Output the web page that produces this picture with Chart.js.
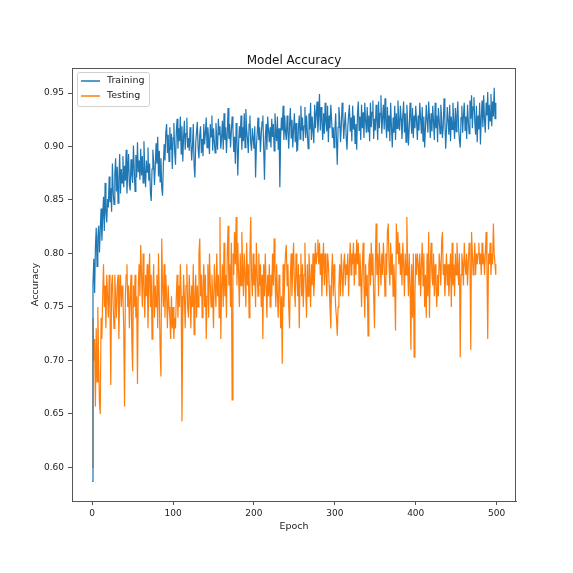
<!DOCTYPE html>
<html>
<head>
<meta charset="utf-8">
<script src="https://cdn.jsdelivr.net/npm/chart.js@4/dist/chart.umd.min.js"></script>
<style>
  html, body { margin: 0; padding: 0; background: #fff; }
  #wrap { width: 573px; height: 573px; }
</style>
</head>
<body>
<div id="wrap"><canvas id="accChart" width="573" height="573"></canvas></div>
<script>
// accuracy per epoch
const trainAcc = [
  0.587, 0.772, 0.795, 0.763, 0.806, 0.824, 0.788, 0.815, 0.826, 0.801, 0.823, 0.842, 0.812, 0.834, 0.853, 0.821, 0.866, 0.838, 0.829, 0.851,
  0.843, 0.872, 0.848, 0.861, 0.839, 0.884, 0.857, 0.846, 0.875, 0.889, 0.858, 0.881, 0.847, 0.869, 0.893, 0.856, 0.879, 0.866, 0.891, 0.862,
  0.882, 0.868, 0.897, 0.856, 0.877, 0.893, 0.864, 0.859, 0.888, 0.874, 0.866, 0.901, 0.879, 0.858, 0.892, 0.871, 0.904, 0.876, 0.887, 0.869,
  0.898, 0.873, 0.891, 0.866, 0.905, 0.878, 0.862, 0.887, 0.876, 0.899, 0.868, 0.884, 0.857, 0.849, 0.879, 0.897, 0.886, 0.864, 0.881, 0.903,
  0.884, 0.909, 0.872, 0.896, 0.867, 0.889, 0.861, 0.854, 0.883, 0.902, 0.887, 0.913, 0.921, 0.894, 0.911, 0.886, 0.918, 0.897, 0.912, 0.879,
  0.908, 0.922, 0.895, 0.883, 0.914, 0.926, 0.898, 0.917, 0.905, 0.928, 0.893, 0.919, 0.886, 0.909, 0.924, 0.897, 0.912, 0.927, 0.899, 0.908,
  0.896, 0.918, 0.905, 0.887, 0.901, 0.921, 0.882, 0.871, 0.903, 0.914, 0.923, 0.898, 0.889, 0.911, 0.919, 0.894, 0.907, 0.891, 0.921, 0.902,
  0.913, 0.927, 0.899, 0.918, 0.906, 0.893, 0.921, 0.909, 0.929, 0.896, 0.917, 0.905, 0.894, 0.922, 0.908, 0.897, 0.926, 0.911, 0.919, 0.898,
  0.909, 0.924, 0.897, 0.931, 0.906, 0.918, 0.894, 0.912, 0.936, 0.907, 0.921, 0.899, 0.913, 0.928, 0.917, 0.895, 0.909, 0.884, 0.922, 0.906,
  0.873, 0.902, 0.919, 0.908, 0.929, 0.897, 0.918, 0.905, 0.931, 0.899, 0.935, 0.916, 0.907, 0.894, 0.921, 0.929, 0.903, 0.896, 0.917, 0.908,
  0.898, 0.919, 0.871, 0.901, 0.912, 0.927, 0.906, 0.918, 0.895, 0.911, 0.923, 0.929, 0.899, 0.869, 0.908, 0.921, 0.897, 0.928, 0.915, 0.904,
  0.918, 0.899, 0.926, 0.909, 0.921, 0.896, 0.931, 0.914, 0.905, 0.928, 0.897, 0.917, 0.862, 0.909, 0.927, 0.915, 0.938, 0.906, 0.929, 0.913,
  0.906, 0.929, 0.914, 0.898, 0.921, 0.936, 0.908, 0.925, 0.899, 0.917, 0.931, 0.904, 0.922, 0.896, 0.897, 0.918, 0.929, 0.907, 0.938, 0.915,
  0.927, 0.905, 0.919, 0.937, 0.908, 0.929, 0.913, 0.898, 0.931, 0.916, 0.941, 0.906, 0.928, 0.914, 0.903, 0.939, 0.917, 0.931, 0.942, 0.913,
  0.928, 0.949, 0.915, 0.937, 0.924, 0.906, 0.931, 0.912, 0.941, 0.923, 0.914, 0.938, 0.904, 0.929, 0.917, 0.939, 0.925, 0.908, 0.918, 0.899,
  0.915, 0.931, 0.906, 0.883, 0.918, 0.937, 0.926, 0.904, 0.919, 0.941, 0.928, 0.907, 0.921, 0.932, 0.909, 0.897, 0.918, 0.929, 0.939, 0.914,
  0.927, 0.905, 0.938, 0.916, 0.929, 0.903, 0.921, 0.897, 0.931, 0.942, 0.915, 0.928, 0.906, 0.939, 0.917, 0.932, 0.908, 0.941, 0.924, 0.913,
  0.937, 0.914, 0.929, 0.905, 0.941, 0.918, 0.932, 0.943, 0.907, 0.926, 0.915, 0.939, 0.924, 0.906, 0.942, 0.917, 0.931, 0.948, 0.912, 0.927,
  0.939, 0.916, 0.945, 0.923, 0.908, 0.937, 0.914, 0.929, 0.905, 0.941, 0.918, 0.899, 0.927, 0.913, 0.938, 0.906, 0.931, 0.917, 0.943, 0.924,
  0.915, 0.938, 0.926, 0.907, 0.929, 0.942, 0.913, 0.931, 0.904, 0.939, 0.923, 0.901, 0.918, 0.941, 0.927, 0.912, 0.936, 0.908, 0.929, 0.917,
  0.938, 0.924, 0.906, 0.929, 0.915, 0.941, 0.926, 0.912, 0.937, 0.905, 0.928, 0.899, 0.917, 0.939, 0.925, 0.913, 0.942, 0.927, 0.908, 0.931,
  0.914, 0.938, 0.923, 0.906, 0.941, 0.917, 0.929, 0.904, 0.936, 0.925, 0.912, 0.939, 0.927, 0.908, 0.918, 0.945, 0.926, 0.898, 0.915, 0.937,
  0.924, 0.911, 0.939, 0.905, 0.928, 0.916, 0.941, 0.923, 0.907, 0.936, 0.914, 0.929, 0.942, 0.917, 0.906, 0.899, 0.927, 0.938, 0.913, 0.929,
  0.941, 0.915, 0.928, 0.907, 0.939, 0.924, 0.912, 0.943, 0.926, 0.948, 0.917, 0.937, 0.946, 0.923, 0.911, 0.938, 0.904, 0.929, 0.916, 0.941,
  0.902, 0.927, 0.943, 0.918, 0.948, 0.925, 0.913, 0.941, 0.929, 0.951, 0.916, 0.939, 0.924, 0.949, 0.919, 0.942, 0.928, 0.955, 0.926, 0.941
];

const testAcc = [
  0.60, 0.74, 0.70, 0.72, 0.657, 0.73, 0.68, 0.75, 0.70, 0.66, 0.65, 0.74, 0.72, 0.76, 0.79, 0.75, 0.77, 0.73, 0.78, 0.76,
  0.74, 0.78, 0.75, 0.677, 0.77, 0.78, 0.75, 0.73, 0.78, 0.76, 0.74, 0.77, 0.78, 0.72, 0.76, 0.78, 0.75, 0.77, 0.76, 0.73,
  0.657, 0.76, 0.78, 0.79, 0.75, 0.77, 0.73, 0.76, 0.78, 0.72, 0.69, 0.77, 0.75, 0.78, 0.74, 0.76, 0.678, 0.77, 0.79, 0.76,
  0.808, 0.78, 0.75, 0.80, 0.77, 0.74, 0.78, 0.76, 0.79, 0.73, 0.77, 0.80, 0.75, 0.78, 0.72, 0.76, 0.79, 0.74, 0.77, 0.75,
  0.78, 0.73, 0.80, 0.76, 0.71, 0.685, 0.814, 0.77, 0.75, 0.79, 0.74, 0.78, 0.76, 0.73, 0.77, 0.75, 0.74, 0.72, 0.76, 0.73,
  0.75, 0.72, 0.74, 0.73, 0.76, 0.78, 0.74, 0.77, 0.75, 0.79, 0.76, 0.643, 0.74, 0.78, 0.76, 0.73, 0.77, 0.79, 0.75, 0.74,
  0.78, 0.76, 0.73, 0.77, 0.75, 0.79, 0.724, 0.76, 0.78, 0.74, 0.77, 0.75, 0.80, 0.814, 0.76, 0.78, 0.74, 0.77, 0.79, 0.75,
  0.78, 0.72, 0.76, 0.79, 0.74, 0.80, 0.77, 0.75, 0.78, 0.76, 0.73, 0.79, 0.77, 0.75, 0.80, 0.76, 0.78, 0.74, 0.834, 0.72,
  0.77, 0.79, 0.75, 0.81, 0.76, 0.78, 0.74, 0.80, 0.826, 0.77, 0.79, 0.75, 0.81, 0.663, 0.80, 0.78, 0.82, 0.79, 0.834, 0.77,
  0.81, 0.78, 0.75, 0.80, 0.77, 0.82, 0.79, 0.76, 0.80, 0.78, 0.75, 0.81, 0.77, 0.79, 0.74, 0.80, 0.834, 0.78, 0.76, 0.80,
  0.77, 0.79, 0.75, 0.81, 0.78, 0.76, 0.80, 0.77, 0.79, 0.75, 0.78, 0.72, 0.79, 0.76, 0.80, 0.77, 0.74, 0.78, 0.76, 0.79,
  0.75, 0.78, 0.76, 0.80, 0.77, 0.814, 0.78, 0.75, 0.79, 0.76, 0.74, 0.78, 0.77, 0.73, 0.76, 0.697, 0.79, 0.75, 0.78, 0.80,
  0.808, 0.77, 0.79, 0.75, 0.73, 0.78, 0.80, 0.76, 0.79, 0.81, 0.77, 0.75, 0.80, 0.78, 0.76, 0.79, 0.73, 0.78, 0.80, 0.76,
  0.79, 0.75, 0.78, 0.81, 0.77, 0.74, 0.79, 0.76, 0.80, 0.78, 0.75, 0.79, 0.77, 0.80, 0.76, 0.78, 0.81, 0.79, 0.80, 0.813,
  0.79, 0.81, 0.78, 0.80, 0.76, 0.79, 0.81, 0.77, 0.80, 0.78, 0.76, 0.80, 0.79, 0.77, 0.75, 0.73, 0.78, 0.80, 0.76, 0.79,
  0.77, 0.75, 0.74, 0.723, 0.75, 0.77, 0.79, 0.76, 0.80, 0.78, 0.76, 0.79, 0.80, 0.77, 0.79, 0.78, 0.80, 0.76, 0.79, 0.81,
  0.78, 0.80, 0.79, 0.81, 0.77, 0.80, 0.78, 0.813, 0.79, 0.81, 0.77, 0.80, 0.78, 0.75, 0.79, 0.81, 0.77, 0.74, 0.79, 0.76,
  0.78, 0.723, 0.79, 0.80, 0.77, 0.81, 0.78, 0.80, 0.76, 0.73, 0.79, 0.828, 0.78, 0.80, 0.76, 0.81, 0.79, 0.77, 0.80, 0.78,
  0.81, 0.79, 0.76, 0.80, 0.78, 0.82, 0.828, 0.79, 0.77, 0.81, 0.78, 0.80, 0.76, 0.79, 0.77, 0.728, 0.828, 0.80, 0.82, 0.79,
  0.81, 0.78, 0.80, 0.77, 0.81, 0.79, 0.76, 0.80, 0.78, 0.834, 0.79, 0.76, 0.80, 0.77, 0.71, 0.79, 0.74, 0.80, 0.703, 0.76,
  0.80, 0.78, 0.80, 0.79, 0.77, 0.80, 0.76, 0.79, 0.81, 0.77, 0.80, 0.75, 0.78, 0.74, 0.80, 0.76, 0.82, 0.74, 0.79, 0.81,
  0.78, 0.77, 0.80, 0.76, 0.79, 0.77, 0.75, 0.78, 0.76, 0.80, 0.79, 0.77, 0.81, 0.82, 0.78, 0.79, 0.76, 0.78, 0.80, 0.77,
  0.79, 0.76, 0.78, 0.80, 0.75, 0.81, 0.77, 0.79, 0.76, 0.80, 0.78, 0.81, 0.79, 0.77, 0.80, 0.703, 0.78, 0.80, 0.79, 0.77,
  0.81, 0.79, 0.78, 0.80, 0.77, 0.79, 0.81, 0.80, 0.71, 0.82, 0.80, 0.78, 0.79, 0.81, 0.78, 0.80, 0.79, 0.80, 0.81, 0.79,
  0.80, 0.78, 0.81, 0.79, 0.80, 0.78, 0.80, 0.82, 0.79, 0.72, 0.80, 0.79, 0.81, 0.78, 0.80, 0.79, 0.828, 0.80, 0.79, 0.78
];

const seriesNames = ["Training", "Testing"];
const chartTitle = "Model Accuracy";
const xTickValues = [0, 100, 200, 300, 400, 500];
const yTickValues = [0.60, 0.65, 0.70, 0.75, 0.80, 0.85, 0.90, 0.95];

const blue = "#1f77b4";
const orange = "#ff7f0e";
const font = "'DejaVu Sans', sans-serif";

const toPoints = (arr) => arr.map((v, i) => ({ x: i, y: v }));

// matplotlib-style title over the axes, box around the axes, legend inside the plot
const boxAndLegend = {
  id: "boxAndLegend",
  afterDraw(chart) {
    const { ctx, chartArea: a } = chart;
    ctx.save();
    ctx.strokeStyle = "#555";
    ctx.lineWidth = 1;
    ctx.strokeRect(a.left + 0.5, a.top + 0.5, a.right - a.left - 1, a.bottom - a.top);

    ctx.fillStyle = "#111";
    ctx.font = "12px " + font;
    ctx.textAlign = "center";
    ctx.textBaseline = "alphabetic";
    ctx.fillText(chartTitle, (a.left + a.right) / 2, a.top - 4);

    const bx = a.left + 5, by = a.top + 4, bw = 72, bh = 34;
    ctx.fillStyle = "rgba(255,255,255,0.8)";
    ctx.strokeStyle = "#d0d0d0";
    ctx.beginPath();
    ctx.roundRect(bx + 0.5, by + 0.5, bw, bh, 2);
    ctx.fill();
    ctx.stroke();

    ctx.font = "9.5px " + font;
    ctx.textAlign = "left";
    ctx.textBaseline = "middle";
    chart.data.datasets.forEach((ds, i) => {
      const y = by + 9 + i * 15;
      ctx.strokeStyle = ds.borderColor;
      ctx.lineWidth = 1.5;
      ctx.beginPath();
      ctx.moveTo(bx + 4, y);
      ctx.lineTo(bx + 23, y);
      ctx.stroke();
      ctx.fillStyle = "#222";
      ctx.fillText(ds.label, bx + 30, y);
    });
    ctx.restore();
  }
};

const ctx = document.getElementById("accChart").getContext("2d");

new Chart(ctx, {
  type: "line",
  data: {
    datasets: [
      {
        label: seriesNames[0],
        data: toPoints(trainAcc),
        borderColor: blue,
        borderWidth: 1.2,
        pointRadius: 0,
        tension: 0
      },
      {
        label: seriesNames[1],
        data: toPoints(testAcc),
        borderColor: orange,
        borderWidth: 1.2,
        pointRadius: 0,
        tension: 0
      }
    ]
  },
  options: {
    responsive: false,
    animation: false,
    devicePixelRatio: 1,
    layout: { padding: { left: 0, right: 57, top: 68, bottom: 0 } },
    plugins: {
      legend: { display: false },
      tooltip: { enabled: false },
      title: { display: false }
    },
    scales: {
      x: {
        type: "linear",
        min: -24.95,
        max: 523.95,
        afterBuildTicks: (s) => { s.ticks = xTickValues.map((v) => ({ value: v })); },
        afterFit: (s) => { s.height = 72; },
        grid: { display: true, drawOnChartArea: false, drawTicks: true, tickLength: 4, color: "#555" },
        border: { display: true, color: "#555" },
        ticks: { color: "#222", padding: 3, font: { family: font, size: 9 }, maxRotation: 0 },
        title: { display: true, text: "Epoch", color: "#222", font: { family: font, size: 9.5 }, padding: { top: 0, bottom: 41 } }
      },
      y: {
        type: "linear",
        min: 0.5686,
        max: 0.9734,
        afterBuildTicks: (s) => { s.ticks = yTickValues.map((v) => ({ value: v })); },
        afterFit: (s) => { s.width = 72; },
        grid: { display: true, drawOnChartArea: false, drawTicks: true, tickLength: 4, color: "#555" },
        border: { display: true, color: "#555" },
        ticks: { color: "#222", padding: 4, font: { family: font, size: 9 }, callback: (v) => Number(v).toFixed(2) },
        title: { display: true, text: "Accuracy", color: "#222", font: { family: font, size: 9.5 }, padding: { top: 30, bottom: 0 } }
      }
    }
  },
  plugins: [boxAndLegend]
});
</script>
</body>
</html>
